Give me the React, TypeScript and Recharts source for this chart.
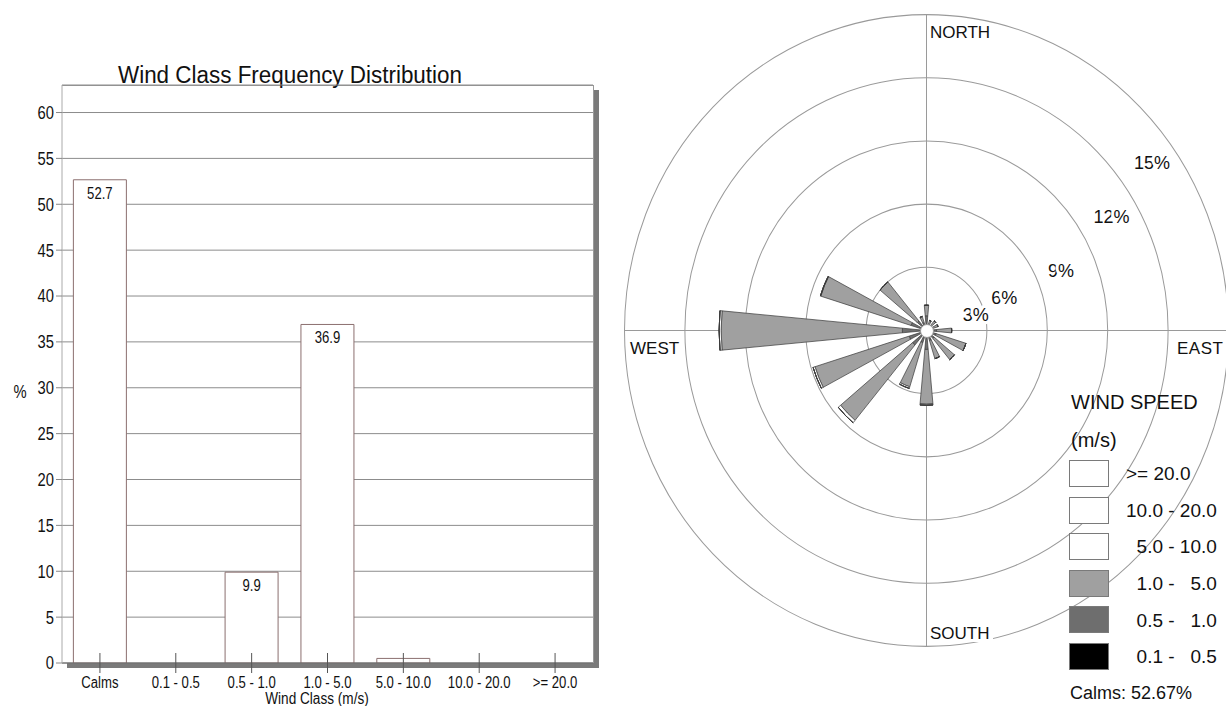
import React from 'react';
import {
  BarChart, Bar, XAxis, YAxis, CartesianGrid, LabelList,
  RadialBarChart, RadialBar, PolarGrid, PolarAngleAxis, PolarRadiusAxis,
} from 'recharts';

// ---- frequency distribution (left) ----
const windClasses = ['Calms', '0.1 - 0.5', '0.5 - 1.0', '1.0 - 5.0', '5.0 - 10.0', '10.0 - 20.0', '>= 20.0'];
const classFrequency = [52.67, 0, 9.9, 36.9, 0.5, 0, 0];
const percentTicks = [0, 5, 10, 15, 20, 25, 30, 35, 40, 45, 50, 55, 60];
const minorTicks = Array.from({ length: 64 }, (_, i) => i);

// ---- wind rose (right), % per direction and speed class ----
const directions = ['N', 'NNE', 'NE', 'ENE', 'E', 'ESE', 'SE', 'SSE', 'S', 'SSW', 'SW', 'WSW', 'W', 'WNW', 'NW', 'NNW'];
const speed01to05 = [0, 0, 0, 0, 0, 0, 0, 0, 0, 0, 0, 0, 0, 0, 0, 0];
const speed05to1 = [0.7, 0.3, 0.3, 0.3, 0.5, 0.5, 0.5, 0.5, 0.9, 0.6, 0.9, 0.9, 1.2, 0.8, 0.6, 0.4];
const speed1to5 = [0.5, 0.2, 0.3, 0.3, 0.75, 1.55, 1.3, 0.9, 2.6, 2.2, 4.65, 4.9, 9.0, 4.7, 2.4, 0.3];
const speed5to10 = [0, 0, 0, 0, 0, 0, 0, 0, 0.05, 0.08, 0.15, 0.1, 0.1, 0.02, 0, 0];
const speed10to20 = [0, 0, 0, 0, 0, 0, 0, 0, 0, 0, 0, 0, 0, 0, 0, 0];
const speed20up = [0, 0, 0, 0, 0, 0, 0, 0, 0, 0, 0, 0, 0, 0, 0, 0];
const roseRings = [3, 6, 9, 12, 15];
const calmsPercent = 52.67;

const speedSeries = [
  { key: 's01', label: '0.1 - \u20070.5', values: speed01to05, fill: '#000000' },
  { key: 's05', label: '0.5 - \u20071.0', values: speed05to1, fill: '#6e6e6e' },
  { key: 's1', label: '1.0 - \u20075.0', values: speed1to5, fill: '#a0a0a0' },
  { key: 's5', label: '5.0 - 10.0', values: speed5to10, fill: '#ffffff' },
  { key: 's10', label: '10.0 - 20.0', values: speed10to20, fill: '#ffffff' },
  { key: 's20', label: '>= 20.0', values: speed20up, fill: '#ffffff' },
];
const legendPad = ['', '', '\u2007', '\u2007', '\u2007', '\u2007'];

const barData = windClasses.map((cls, i) => ({ cls, freq: classFrequency[i] }));
const roseData = directions.map((dir, i) => {
  const row: Record<string, string | number> = { dir };
  speedSeries.forEach((s) => { row[s.key] = s.values[i]; });
  return row;
});

const FONT = '"Liberation Sans", Arial, sans-serif';
const W = 1226;
const H = 706;
const BAR_W = 600;
const PLOT_LEFT = 62;
const PLOT_TOP = 85;
const PLOT_RIGHT = 593;
const PLOT_BOTTOM = 663;

const ROSE_LEFT = 600;
const ROSE_CX = 326.5;
const ROSE_CY = 330.5;
const ROSE_R = 302;
const ROSE_STRETCH = 1.046;
const PETAL_DEG = 10.5;
// where each ring label sits: angle (deg) and how far inside its ring (px)
const ringLabelPlace: Record<number, [number, number]> = {
  3: [17, 9], 6: [22, 37], 9: [23, 35], 12: [30.5, 27], 15: [35.5, 25],
};

const NarrowText = ({ x, y, size, anchor = 'middle', children }: any) => (
  <text transform={`translate(${x},${y}) scale(0.82,1)`} fontSize={size} textAnchor={anchor} fill="#111" fontFamily={FONT}>
    {children}
  </text>
);

const PercentTick = ({ x, y, payload }: any) => (
  <NarrowText x={x} y={y + 6.4} size={18} anchor="end">{payload.value}</NarrowText>
);

const ClassTick = ({ x, payload }: any) => (
  <g>
    <line x1={x} x2={x} y1={PLOT_BOTTOM - 10} y2={PLOT_BOTTOM + 10} stroke="#555" />
    <NarrowText x={x} y={PLOT_BOTTOM + 25} size={16}>{payload.value}</NarrowText>
  </g>
);

const BarValue = ({ x, y, width, value }: any) =>
  value >= 1 ? <NarrowText x={x + width / 2} y={y + 19} size={16}>{Number(value).toFixed(1)}</NarrowText> : null;

const RingTick = ({ x, y, payload }: any) => {
  const r = Math.hypot(x - ROSE_CX, y - ROSE_CY);
  const v = payload.value;
  const [deg, inset] = ringLabelPlace[v] || [25, 20];
  const a = (deg * Math.PI) / 180;
  const d = r - inset;
  return (
    <text
      x={ROSE_CX + d * Math.cos(a)}
      y={ROSE_CY - d * Math.sin(a)}
      textAnchor="middle"
      dominantBaseline="central"
      fontSize={18}
      fontFamily={FONT}
      fill="#111"
      stroke="#fff"
      strokeWidth={6}
      strokeLinejoin="round"
      paintOrder="stroke"
    >
      {v}%
    </text>
  );
};

// html text placed by the centre of its capitals
const Txt = ({ x, cy, size, children, bg = false, style = {} }: any) => (
  <div
    style={{
      position: 'absolute', left: x, top: cy - 0.49 * size, fontSize: size, lineHeight: `${size}px`,
      fontFamily: FONT, color: '#111', whiteSpace: 'pre', background: bg ? '#fff' : 'transparent',
      padding: bg ? '0 3px 0 1px' : 0, ...style,
    }}
  >
    {children}
  </div>
);

export default function App() {
  return (
    <div style={{ position: 'absolute', left: 0, top: 0, width: W, height: H, overflow: 'hidden', background: '#fff' }}>
      {/* left: frequency bars */}
      <div
        style={{
          position: 'absolute', left: PLOT_LEFT, top: PLOT_TOP, width: PLOT_RIGHT - PLOT_LEFT + 1,
          height: PLOT_BOTTOM - PLOT_TOP, boxSizing: 'border-box', borderTop: '1px solid #999',
          borderRight: '1px solid #999', boxShadow: '5px 5px 0 #7a7a7a', background: '#fff',
        }}
      />
      <div
        style={{
          position: 'absolute', left: 0, width: 580, top: 75 - 0.49 * 23, fontSize: 23, lineHeight: '23px',
          fontFamily: FONT, color: '#111', textAlign: 'center', transform: 'scaleX(0.975)',
        }}
      >
        Wind Class Frequency Distribution
      </div>
      <div style={{ position: 'absolute', left: 0, top: 0 }}>
        <BarChart
          width={BAR_W}
          height={H}
          data={barData}
          margin={{ top: PLOT_TOP, right: BAR_W - PLOT_RIGHT, bottom: 0, left: 0 }}
          barCategoryGap="15%"
        >
          <CartesianGrid vertical={false} stroke="#8c8c8c" />
          <XAxis
            dataKey="cls"
            height={H - PLOT_BOTTOM}
            interval={0}
            tickLine={false}
            axisLine={{ stroke: '#666' }}
            tick={<ClassTick />}
          />
          <YAxis
            width={PLOT_LEFT}
            domain={[0, 63]}
            allowDataOverflow
            ticks={percentTicks}
            interval={0}
            tick={<PercentTick />}
            tickLine={{ stroke: '#888' }}
            axisLine={{ stroke: '#aaa' }}
          />
          <YAxis
            yAxisId="minor"
            width={0}
            mirror
            domain={[0, 63]}
            allowDataOverflow
            ticks={minorTicks}
            interval={0}
            tick={false}
            tickSize={7}
            tickLine={{ stroke: '#999' }}
            axisLine={false}
          />
          <Bar dataKey="freq" fill="#fff" stroke="#8b6f6f" isAnimationActive={false}>
            <LabelList dataKey="freq" content={<BarValue />} />
          </Bar>
        </BarChart>
      </div>
      <div style={{ position: 'absolute', left: 12, top: 392 - 0.49 * 18, fontSize: 18, lineHeight: '18px', fontFamily: FONT, color: '#111', transform: 'scaleX(0.82)' }}>%</div>
      <div
        style={{
          position: 'absolute', left: 217, width: 200, top: 698.5 - 0.49 * 16, fontSize: 16, lineHeight: '16px',
          fontFamily: FONT, color: '#111', textAlign: 'center', transform: 'scaleX(0.85)', whiteSpace: 'nowrap',
        }}
      >
        Wind Class (m/s)
      </div>

      {/* right: wind rose */}
      <div
        style={{
          position: 'absolute', left: ROSE_LEFT, top: 0, width: W - ROSE_LEFT, height: H, overflow: 'hidden',
          transform: `scaleY(${ROSE_STRETCH})`, transformOrigin: `${ROSE_CX}px ${ROSE_CY}px`,
        }}
      >
        <RadialBarChart
          width={W - ROSE_LEFT}
          height={H}
          data={roseData}
          cx={ROSE_CX}
          cy={ROSE_CY}
          innerRadius={0}
          outerRadius={ROSE_R}
          startAngle={78.75}
          endAngle={-281.25}
          layout="centric"
          barSize={PETAL_DEG}
        >
          <PolarGrid gridType="circle" polarAngles={[0, 90, 180, 270]} stroke="#9a9a9a" />
          <PolarAngleAxis type="category" dataKey="dir" tick={false} tickLine={false} axisLine={false} />
          <PolarRadiusAxis
            type="number"
            angle={0}
            domain={[0, 15]}
            allowDataOverflow
            ticks={roseRings}
            axisLine={false}
            tickLine={false}
            tick={<RingTick />}
          />
          {speedSeries.map((s) => (
            <RadialBar
              key={s.key}
              dataKey={s.key}
              stackId="speed"
              barSize={PETAL_DEG}
              fill={s.fill}
              stroke="#3a3a3a"
              strokeWidth={0.7}
              isAnimationActive={false}
            />
          ))}
        </RadialBarChart>
      </div>
      <div
        style={{
          position: 'absolute', left: ROSE_LEFT + ROSE_CX - 7, top: ROSE_CY - 7, width: 14, height: 14,
          boxSizing: 'border-box', borderRadius: '50%', border: '1px solid #999', background: '#fff',
        }}
      />
      <Txt x={929} cy={32} size={17} bg>NORTH</Txt>
      <Txt x={929} cy={633} size={17} bg>SOUTH</Txt>
      <Txt x={630} cy={348} size={17}>WEST</Txt>
      <Txt x={1177} cy={348} size={17} style={{ letterSpacing: 0.5 }}>EAST</Txt>

      {/* legend */}
      <Txt x={1071} cy={402} size={20}>WIND SPEED</Txt>
      <Txt x={1071} cy={440} size={20}>(m/s)</Txt>
      {[...speedSeries].reverse().map((s, i) => (
        <React.Fragment key={s.key}>
          <div
            style={{
              position: 'absolute', left: 1069, top: 460 + i * 36.6, width: 40, height: 27,
              boxSizing: 'border-box', border: '1px solid #7a7a7a', background: s.fill,
            }}
          />
          <Txt x={1126} cy={473.5 + i * 36.6} size={19}>{legendPad[i] + s.label}</Txt>
        </React.Fragment>
      ))}
      <Txt x={1070} cy={693} size={18}>{`Calms: ${calmsPercent.toFixed(2)}%`}</Txt>
    </div>
  );
}
